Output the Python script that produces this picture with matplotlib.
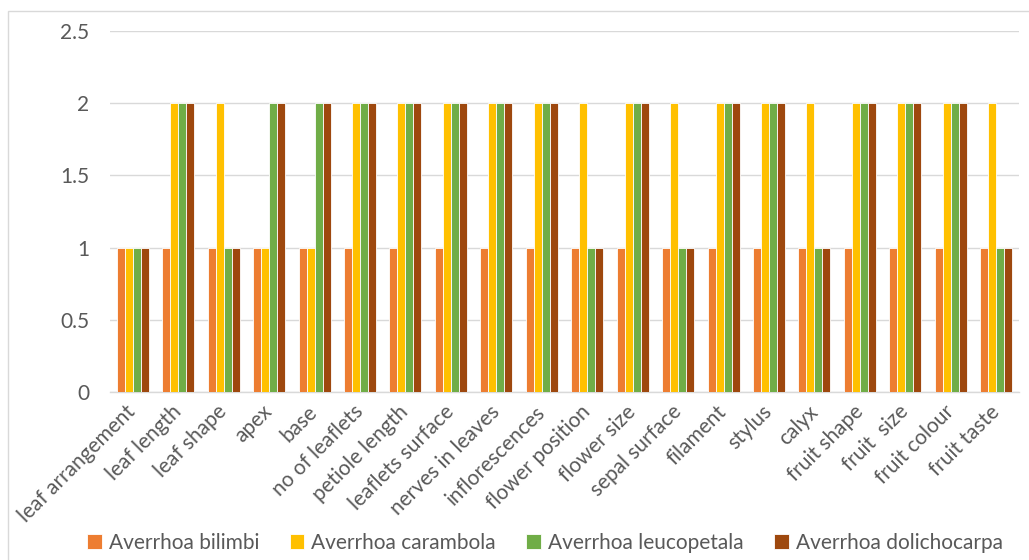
import matplotlib
matplotlib.use("Agg")
import matplotlib.pyplot as plt
import numpy as np
from matplotlib.patches import Rectangle

categories = ["leaf arrangement", "leaf length", "leaf shape", "apex", "base",
              "no of leaflets", "petiole length", "leaflets surface", "nerves in leaves",
              "inflorescences", "flower position", "flower size", "sepal surface",
              "filament", "stylus", "calyx", "fruit shape", "fruit  size",
              "fruit colour", "fruit taste"]
series_names = ["Averrhoa bilimbi", "Averrhoa carambola", "Averrhoa leucopetala",
                "Averrhoa dolichocarpa"]
bilimbi = [1, 1, 1, 1, 1, 1, 1, 1, 1, 1, 1, 1, 1, 1, 1, 1, 1, 1, 1, 1]
carambola = [1, 2, 2, 1, 1, 2, 2, 2, 2, 2, 2, 2, 2, 2, 2, 2, 2, 2, 2, 2]
leucopetala = [1, 2, 1, 2, 2, 2, 2, 2, 2, 2, 1, 2, 1, 2, 2, 1, 2, 2, 2, 1]
dolichocarpa = [1, 2, 1, 2, 2, 2, 2, 2, 2, 2, 1, 2, 1, 2, 2, 1, 2, 2, 2, 1]
yticks = [0, 0.5, 1, 1.5, 2, 2.5]
ytick_labels = ["0", "0.5", "1", "1.5", "2", "2.5"]

colors = ["#ED7D31", "#FFC000", "#70AD47", "#9E480E"]
plt.rcParams['font.family'] = ['Lato', 'DejaVu Sans']
text_color = "#595959"
fs = 15

fig = plt.figure(figsize=(10.29, 5.6), dpi=100)
ax = fig.add_axes([110/1029, 1 - 392/560, (1019 - 110)/1029, (392 - 31)/560])

x = np.arange(len(categories))
bw = 0.176
data = [bilimbi, carambola, leucopetala, dolichocarpa]
for i, (vals, name, c) in enumerate(zip(data, series_names, colors)):
    ax.bar(x + (i - 1.5) * bw, vals, width=bw, color=c, edgecolor="white",
           linewidth=0.6, label=name, zorder=3)

ax.set_xlim(-0.5, len(categories) - 0.5)
ax.set_ylim(0, 2.5)
ax.set_yticks(yticks)
ax.set_yticklabels(ytick_labels)
ax.grid(axis="y", color="#D9D9D9", linewidth=1.0, zorder=0)
for s in ["top", "right", "left"]:
    ax.spines[s].set_visible(False)
ax.spines["bottom"].set_color("#D9D9D9")
ax.spines["bottom"].set_linewidth(1.0)
ax.tick_params(axis="both", length=0, colors=text_color, labelsize=fs)
ax.tick_params(axis="y", pad=15)
ax.set_xticks(x)
ax.set_xticklabels(categories, rotation=45, ha="right", rotation_mode="anchor",
                   va="center")
ax.tick_params(axis="x", pad=12)

leg = fig.legend(loc="center", bbox_to_anchor=(545/1029, 1 - 543/560), ncol=4,
                 frameon=False, fontsize=fs, handlelength=0.7, handleheight=0.7,
                 handletextpad=0.35, columnspacing=1.45)
for t in leg.get_texts():
    t.set_color(text_color)

fig.patches.append(Rectangle((8/1029, -0.05), 1.1, 1 - 11/560 + 0.05,
                             transform=fig.transFigure, fill=False,
                             edgecolor="#D9D9D9", linewidth=1.0))

fig.savefig("out.png", dpi=100)
